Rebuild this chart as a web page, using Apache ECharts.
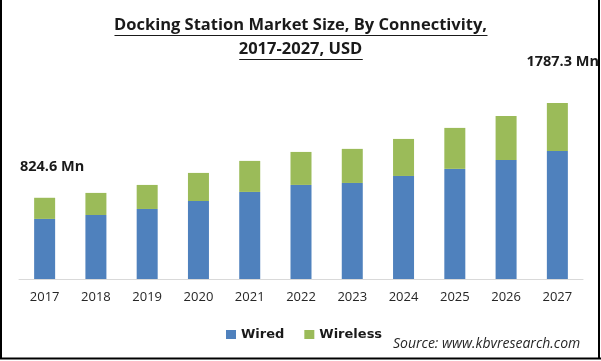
<!DOCTYPE html>
<html>
<head>
<meta charset="utf-8">
<script src="https://cdn.jsdelivr.net/npm/echarts@6/dist/echarts.min.js"></script>
<style>
html,body{margin:0;padding:0;background:#fff;}
#chart{width:601px;height:361px;}
</style>
</head>
<body>
<div id="chart"></div>
<script>
const years = ['2017','2018','2019','2020','2021','2022','2023','2024','2025','2026','2027'];
const wired = [610, 650, 711, 792, 884, 955, 975, 1046, 1118, 1209, 1300];
const wireless = [214.6, 224, 244, 285, 315, 335, 346, 376, 416, 447, 487.3];
const seriesNames = ['Wired', 'Wireless'];
const titleLines = ['Docking Station Market Size, By Connectivity,', '2017-2027, USD'];
const sourceText = 'Source: www.kbvresearch.com';

const firstTotal = +(wired[0] + wireless[0]).toFixed(1);
const lastTotal = +(wired[wired.length-1] + wireless[wireless.length-1]).toFixed(1);

function textWidth(txt, font){
  const c = document.createElement('canvas').getContext('2d');
  c.font = font;
  return c.measureText(txt).width;
}
const titleFont = 'bold 16.5px "Open Sans"';
const w1 = textWidth(titleLines[0], titleFont);
const w2 = textWidth(titleLines[1], titleFont);
const cx = 301;

const chart = echarts.init(document.getElementById('chart'), null, {renderer:'canvas'});
chart.setOption({
  backgroundColor: '#ffffff',
  animation: false,
  grid: {left: 19, right: 18, top: 82, bottom: 82},
  legend: {
    data: seriesNames,
    left: 226, top: 328, padding: 0,
    itemWidth: 10, itemHeight: 9, itemGap: 20,
    icon: 'rect',
    textStyle: {fontFamily: 'DejaVu Sans', fontWeight: 'bold', fontSize: 13, color: '#1a1a1a'}
  },
  xAxis: {
    type: 'category', data: years,
    axisLine: {lineStyle: {color: '#d9d9d9', width: 1}},
    axisTick: {show: false},
    axisLabel: {fontFamily: 'Open Sans', fontSize: 13, color: '#262626', margin: 12}
  },
  yAxis: {type: 'value', min: 0, max: 2000, show: false, splitLine: {show: false}},
  series: [
    {name: seriesNames[0], type: 'bar', stack: 'total', data: wired, barWidth: 21,
     itemStyle: {color: '#4f81bd'}},
    {name: seriesNames[1], type: 'bar', stack: 'total', data: wireless, barWidth: 21,
     itemStyle: {color: '#9bbb59'}}
  ],
  graphic: [
    {type: 'text', left: 'center', top: 17, style: {text: titleLines[0], font: titleFont, fill: '#1a1a1a'}},
    {type: 'text', left: 'center', top: 41, style: {text: titleLines[1], font: titleFont, fill: '#1a1a1a'}},
    {type: 'line', shape: {x1: cx - w1/2, y1: 35.5, x2: cx + w1/2, y2: 35.5}, style: {stroke: '#1a1a1a', lineWidth: 1}},
    {type: 'line', shape: {x1: cx - w2/2, y1: 59.5, x2: cx + w2/2, y2: 59.5}, style: {stroke: '#1a1a1a', lineWidth: 1}},
    {type: 'text', left: 20, top: 159, style: {text: firstTotal + ' Mn', font: 'bold 14.5px "Open Sans"', fill: '#1a1a1a'}},
    {type: 'text', right: 2, top: 54, style: {text: lastTotal + ' Mn', font: 'bold 14.5px "Open Sans"', fill: '#1a1a1a'}},
    {type: 'text', left: 393, top: 337, style: {text: sourceText, font: 'italic 14px "Open Sans"', fill: '#262626'}},
    {type: 'line', shape: {x1: 1, y1: 0, x2: 1, y2: 359}, style: {stroke: '#000', lineWidth: 2}},
    {type: 'line', shape: {x1: 599, y1: 0, x2: 599, y2: 359}, style: {stroke: '#000', lineWidth: 2}},
    {type: 'line', shape: {x1: 0, y1: 358.5, x2: 601, y2: 358.5}, style: {stroke: '#000', lineWidth: 2}}
  ]
});
</script>
</body>
</html>
